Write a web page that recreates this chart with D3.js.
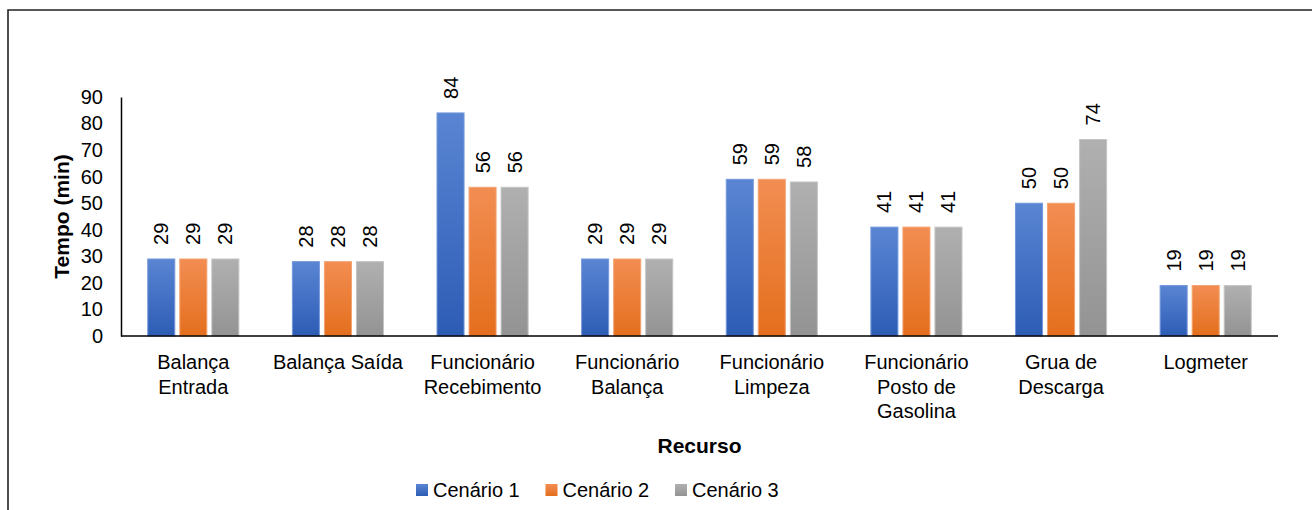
<!DOCTYPE html>
<html>
<head>
<meta charset="utf-8">
<script src="https://cdn.jsdelivr.net/npm/d3@7"></script>
<style>
  html, body { margin: 0; padding: 0; background: #fff; }
  svg { display: block; font-family: "Liberation Sans", Arial, sans-serif; }
</style>
</head>
<body>
<svg id="chart" width="1312" height="510"></svg>
<script>
// Dados do gráfico
const recursos = ['Balança Entrada', 'Balança Saída', 'Funcionário Recebimento',
  'Funcionário Balança', 'Funcionário Limpeza', 'Funcionário Posto de Gasolina',
  'Grua de Descarga', 'Logmeter'];
const rotulos = [['Balança', 'Entrada'], ['Balança Saída'], ['Funcionário', 'Recebimento'],
  ['Funcionário', 'Balança'], ['Funcionário', 'Limpeza'], ['Funcionário', 'Posto de', 'Gasolina'],
  ['Grua de', 'Descarga'], ['Logmeter']];
const cenarios = ['Cenário 1', 'Cenário 2', 'Cenário 3'];
const cenario1 = [29, 28, 84, 29, 59, 41, 50, 19];
const cenario2 = [29, 28, 56, 29, 59, 41, 50, 19];
const cenario3 = [29, 28, 56, 29, 58, 41, 74, 19];
const yTicks = [0, 10, 20, 30, 40, 50, 60, 70, 80, 90];

const series = [cenario1, cenario2, cenario3];
const cores = [
  { id: 'g1', top: '#5a85d3', bot: '#2d5cb5', stroke: '#7398dc' },
  { id: 'g2', top: '#f28d52', bot: '#e46f1d', stroke: '#f4a271' },
  { id: 'g3', top: '#b0b0b0', bot: '#939393', stroke: '#c4c4c4' }
];

const svg = d3.select('#chart');
const m = { left: 121, right: 1278, top: 97, bottom: 336 };

// moldura (só topo e esquerda visíveis)
svg.append('path')
  .attr('d', 'M8,511 L8,10 L1312,10')
  .attr('fill', 'none').attr('stroke', '#222').attr('stroke-width', 1.6);

const defs = svg.append('defs');
cores.forEach(c => {
  const g = defs.append('linearGradient').attr('id', c.id)
    .attr('x1', 0).attr('y1', 0).attr('x2', 0).attr('y2', 1);
  g.append('stop').attr('offset', '0%').attr('stop-color', c.top);
  g.append('stop').attr('offset', '100%').attr('stop-color', c.bot);
});

const x0 = d3.scaleBand().domain(recursos).range([m.left, m.right])
  .paddingInner(0.37).paddingOuter(0.185);
const x1 = d3.scaleBand().domain(d3.range(3)).range([0, x0.bandwidth()])
  .paddingInner(0.156);
const y = d3.scaleLinear().domain([0, 90]).range([m.bottom, m.top]);

// eixo Y (apenas rótulos e linha)
const yAxis = svg.append('g').attr('transform', `translate(${m.left},0)`)
  .call(d3.axisLeft(y).tickValues(yTicks).tickSize(0).tickPadding(18));
yAxis.select('.domain').attr('stroke', '#000').attr('stroke-width', 1.5);
yAxis.selectAll('text').attr('font-size', 20).attr('fill', '#000')
  .attr('font-family', '"Liberation Sans", Arial, sans-serif');

// barras
const grupos = svg.append('g').selectAll('g')
  .data(recursos).join('g')
  .attr('transform', d => `translate(${x0(d)},0)`);

grupos.each(function(r, i) {
  const g = d3.select(this);
  series.forEach((s, k) => {
    const v = s[i];
    g.append('rect')
      .attr('x', x1(k)).attr('y', y(v))
      .attr('width', x1.bandwidth()).attr('height', y(0) - y(v))
      .attr('fill', `url(#${cores[k].id})`)
      .attr('stroke', cores[k].stroke).attr('stroke-width', 1);
    const cx = x1(k) + x1.bandwidth() / 2;
    g.append('text')
      .attr('transform', `translate(${cx},${y(v) - 14}) rotate(-90)`)
      .attr('dy', '0.35em')
      .attr('font-size', 20).attr('fill', '#000')
      .text(v);
  });
});

// eixo X
svg.append('line')
  .attr('x1', m.left).attr('x2', m.right)
  .attr('y1', y(0)).attr('y2', y(0))
  .attr('stroke', '#000').attr('stroke-width', 1.5);

const xLab = svg.append('g').selectAll('text')
  .data(recursos).join('text')
  .attr('x', d => x0(d) + x0.bandwidth() / 2)
  .attr('y', 369)
  .attr('text-anchor', 'middle')
  .attr('font-size', 20).attr('fill', '#000');
xLab.each(function(d, i) {
  d3.select(this).selectAll('tspan').data(rotulos[i]).join('tspan')
    .attr('x', x0(d) + x0.bandwidth() / 2)
    .attr('dy', (t, j) => j === 0 ? 0 : 24.5)
    .text(t => t);
});

// títulos dos eixos
svg.append('text')
  .attr('x', (m.left + m.right) / 2).attr('y', 453)
  .attr('text-anchor', 'middle')
  .attr('font-size', 21).attr('font-weight', 'bold')
  .text('Recurso');

svg.append('text')
  .attr('transform', `translate(69,${(m.top + m.bottom) / 2}) rotate(-90)`)
  .attr('text-anchor', 'middle')
  .attr('font-size', 21).attr('font-weight', 'bold')
  .text('Tempo (min)');

// legenda
const leg = svg.append('g').selectAll('g')
  .data(cenarios).join('g')
  .attr('transform', (d, i) => `translate(${416 + i * 129.5},484)`);
leg.append('rect')
  .attr('width', 12).attr('height', 12)
  .attr('fill', (d, i) => `url(#${cores[i].id})`);
leg.append('text')
  .attr('x', 17).attr('y', 13)
  .attr('font-size', 20).attr('fill', '#000')
  .text(d => d);
</script>
</body>
</html>
